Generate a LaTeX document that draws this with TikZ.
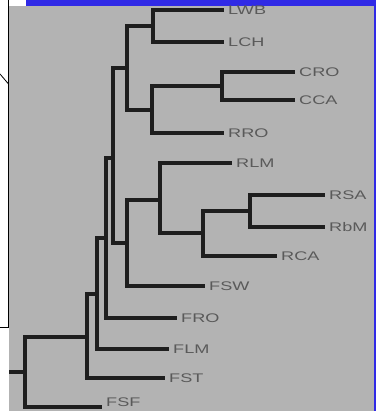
\documentclass[tikz,border=0pt]{standalone}
\usepackage{fontspec}
\setmainfont{Liberation Sans}
\definecolor{bggray}{RGB}{179,179,179}
\definecolor{barblue}{RGB}{48,42,230}
\definecolor{branch}{RGB}{30,30,30}
\definecolor{labgray}{RGB}{90,90,90}
\begin{document}
\begin{tikzpicture}[x=1pt,y=-1pt,
  br/.style={draw=branch,line width=3.1pt,line cap=rect},
  leaflab/.style={anchor=west,inner sep=0pt,text=labgray,
    font=\fontsize{12.5}{13}\selectfont,xshift=6pt},
  frameline/.style={draw=black,line width=0.8pt}]
\useasboundingbox (0,0) rectangle (376,411);
% backgrounds
\fill[white] (0,0) rectangle (376,411);
\fill[bggray] (9,6) rectangle (374,411);
\fill[barblue] (26,0) rectangle (376,6);
\fill[barblue] (374,0) rectangle (376,411);
% left frame remnant
\draw[frameline] (8.5,0) -- (8.5,327.5) -- (0,327.5);
\draw[frameline] (0,74) -- (8.5,84);
\begin{scope}
\clip (9,6) rectangle (374,411);
% leaf end points
\coordinate (lwb) at (222,10);
\coordinate (lch) at (222,42);
\coordinate (cro) at (293,72);
\coordinate (cca) at (293,100);
\coordinate (rro) at (222,133);
\coordinate (rlm) at (230,163);
\coordinate (rsa) at (323,195);
\coordinate (rbm) at (323,227);
\coordinate (rca) at (275,256);
\coordinate (fsw) at (203,286);
\coordinate (fro) at (175,318);
\coordinate (flm) at (167,349);
\coordinate (fst) at (163,378);
\coordinate (fsf) at (100,407);
\coordinate (fsfl) at (100,402);
% internal nodes
\coordinate (n1) at (153,26);
\coordinate (n2) at (222,86);
\coordinate (n3) at (152,110);
\coordinate (n4) at (127,68);
\coordinate (n5) at (250,211);
\coordinate (n6) at (203,233);
\coordinate (n7) at (160,200);
\coordinate (n8) at (127,243);
\coordinate (n9) at (113,158);
\coordinate (n10) at (106,238);
\coordinate (n11) at (97,294);
\coordinate (n12) at (87,337);
\coordinate (root) at (25,372);
\coordinate (stub) at (10,372);
% branches
\draw[br] (n1) |- (lwb); \draw[br] (n1) |- (lch);
\draw[br] (n2) |- (cro); \draw[br] (n2) |- (cca);
\draw[br] (n3) |- (n2);  \draw[br] (n3) |- (rro);
\draw[br] (n4) |- (n1);  \draw[br] (n4) |- (n3);
\draw[br] (n5) |- (rsa); \draw[br] (n5) |- (rbm);
\draw[br] (n6) |- (n5);  \draw[br] (n6) |- (rca);
\draw[br] (n7) |- (rlm); \draw[br] (n7) |- (n6);
\draw[br] (n8) |- (n7);  \draw[br] (n8) |- (fsw);
\draw[br] (n9) |- (n4);  \draw[br] (n9) |- (n8);
\draw[br] (n10) |- (n9); \draw[br] (n10) |- (fro);
\draw[br] (n11) |- (n10); \draw[br] (n11) |- (flm);
\draw[br] (n12) |- (n11); \draw[br] (n12) |- (fst);
\draw[br] (root) |- (n12); \draw[br] (root) |- (fsf);
\draw[br] (stub) -- (root);
% labels
\node[leaflab] (tlwb) at (lwb) {\scalebox{1.45}[1]{LWB}};
\node[leaflab] (tlch) at (lch) {\scalebox{1.45}[1]{LCH}};
\node[leaflab] (tcro) at (cro) {\scalebox{1.45}[1]{CRO}};
\node[leaflab] (tcca) at (cca) {\scalebox{1.45}[1]{CCA}};
\node[leaflab] (trro) at (rro) {\scalebox{1.45}[1]{RRO}};
\node[leaflab] (trlm) at (rlm) {\scalebox{1.45}[1]{RLM}};
\node[leaflab] (trsa) at (rsa) {\scalebox{1.45}[1]{RSA}};
\node[leaflab] (trbm) at (rbm) {\scalebox{1.45}[1]{RbM}};
\node[leaflab] (trca) at (rca) {\scalebox{1.45}[1]{RCA}};
\node[leaflab] (tfsw) at (fsw) {\scalebox{1.45}[1]{FSW}};
\node[leaflab] (tfro) at (fro) {\scalebox{1.45}[1]{FRO}};
\node[leaflab] (tflm) at (flm) {\scalebox{1.45}[1]{FLM}};
\node[leaflab] (tfst) at (fst) {\scalebox{1.45}[1]{FST}};
\node[leaflab] (tfsf) at (fsfl) {\scalebox{1.45}[1]{FSF}};
\end{scope}
\end{tikzpicture}
\end{document}
